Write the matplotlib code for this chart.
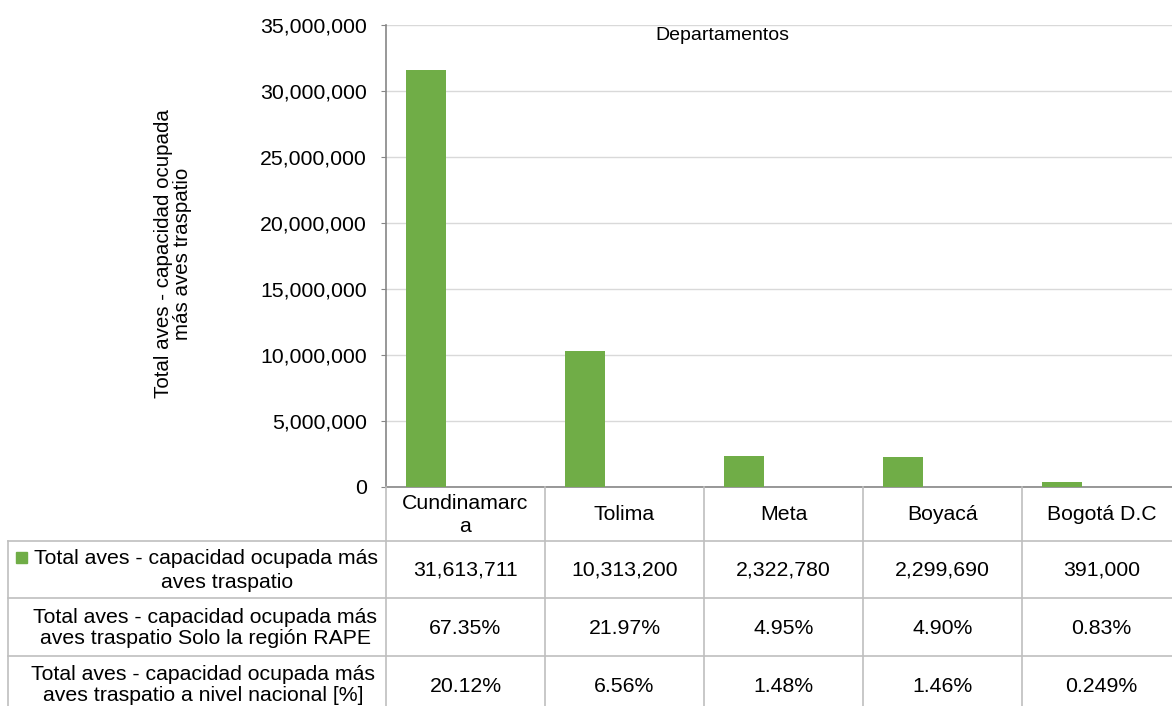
import matplotlib
matplotlib.use("Agg")
import matplotlib.pyplot as plt
from matplotlib.lines import Line2D
from matplotlib.patches import Rectangle
from matplotlib.ticker import FuncFormatter
from matplotlib.transforms import blended_transform_factory

plt.rcParams['font.family'] = ['Liberation Sans', 'DejaVu Sans']

### Données ###
categories = ["Cundinamarca", "Tolima", "Meta", "Boyacá", "Bogotá D.C"]
header_labels = ["Cundinamarc\na", "Tolima", "Meta", "Boyacá", "Bogotá D.C"]
total_aves = [31613711, 10313200, 2322780, 2299690, 391000]
pct_rape = ["67.35%", "21.97%", "4.95%", "4.90%", "0.83%"]
pct_nacional = ["20.12%", "6.56%", "1.48%", "1.46%", "0.249%"]

row_labels = [
    "Total aves - capacidad ocupada más\naves traspatio Solo la región RAPE",
    "Total aves - capacidad ocupada más\naves traspatio a nivel nacional [%]",
]

W, H = 1172, 706
VERT = "#70AD47"
GRIS_AXE = "#868686"
GRIS_TAB = "#BFBFBF"
GRIS_GRILLE = "#D9D9D9"
FS = 15.3


def fx(x):
    return x / W


def fy(y):
    return 1 - y / H


fig = plt.figure(figsize=(W / 100, H / 100), dpi=100)
ax = fig.add_axes([fx(386), fy(487), fx(1181) - fx(386), fy(25) - fy(487)])

# 3 séries dans Excel, seule la première est visible
n_series = 3
largeur = 1 / (n_series + 1)
x = list(range(len(categories)))
ax.bar([i - largeur for i in x], total_aves, width=largeur, color=VERT, zorder=3)

ax.set_xlim(-0.5, len(categories) - 0.5)
ax.set_ylim(0, 35000000)
ax.set_yticks(range(0, 35000001, 5000000))
ax.yaxis.set_major_formatter(FuncFormatter(lambda v, p: f"{int(v):,}"))
ax.set_xticks([])
ax.tick_params(axis="y", labelsize=FS, length=3.6, color=GRIS_AXE, pad=10)
ax.grid(axis="y", color=GRIS_GRILLE, linewidth=1, zorder=0)
for s in ["top", "right"]:
    ax.spines[s].set_visible(False)
ax.spines["left"].set_color(GRIS_AXE)
ax.spines["bottom"].set_color(GRIS_AXE)
ax.spines["left"].set_linewidth(1.2)
ax.spines["bottom"].set_linewidth(1.2)

fig.text(fx(173), fy(254), "Total aves - capacidad ocupada\nmás aves traspatio",
         rotation=90, ha="center", va="center", fontsize=14.8,
         multialignment="center", linespacing=1.05)

fig.text(fx(722), fy(36), "Departamentos", fontsize=14, ha="center", va="center")

# Tableau de données sous le graphique
tr = blended_transform_factory(ax.transData, fig.transFigure)
lignes_h = [541, 598, 656]
for yl in lignes_h:
    fig.add_artist(Line2D([fx(8), 1.0], [fy(yl), fy(yl)], color=GRIS_TAB, linewidth=1.2))
fig.add_artist(Line2D([fx(8), fx(8)], [fy(541), 0], color=GRIS_TAB, linewidth=1.2))
for i in range(len(categories) + 1):
    fig.add_artist(Line2D([i - 0.5, i - 0.5], [fy(487), 0], color=GRIS_TAB,
                          linewidth=1.2, transform=tr))

for i, nom in enumerate(header_labels):
    fig.text(i, fy(515), nom, transform=tr, ha="center", va="center",
             fontsize=FS, multialignment="center", linespacing=1.25)
    fig.text(i, fy(570), f"{total_aves[i]:,}", transform=tr, ha="center",
             va="center", fontsize=FS)
    fig.text(i, fy(628), pct_rape[i], transform=tr, ha="center", va="center",
             fontsize=FS)
    fig.text(i, fy(686), pct_nacional[i], transform=tr, ha="center",
             va="center", fontsize=FS)

# en-têtes de lignes
fig.patches.append(Rectangle((fx(16), fy(563)), fx(11), fy(552) - fy(563),
                             color=VERT, transform=fig.transFigure, figure=fig))
fig.text(fx(206), fy(558), "Total aves - capacidad ocupada más", ha="center",
         va="center", fontsize=FS)
fig.text(fx(227), fy(583), "aves traspatio", ha="center", va="center", fontsize=FS)
fig.text(fx(205), fy(628), row_labels[0], ha="center", va="center",
         fontsize=FS, multialignment="center", linespacing=1.1)
fig.text(fx(203), fy(685), row_labels[1], ha="center", va="center",
         fontsize=FS, multialignment="center", linespacing=1.1)

fig.savefig("out.png", dpi=100)
